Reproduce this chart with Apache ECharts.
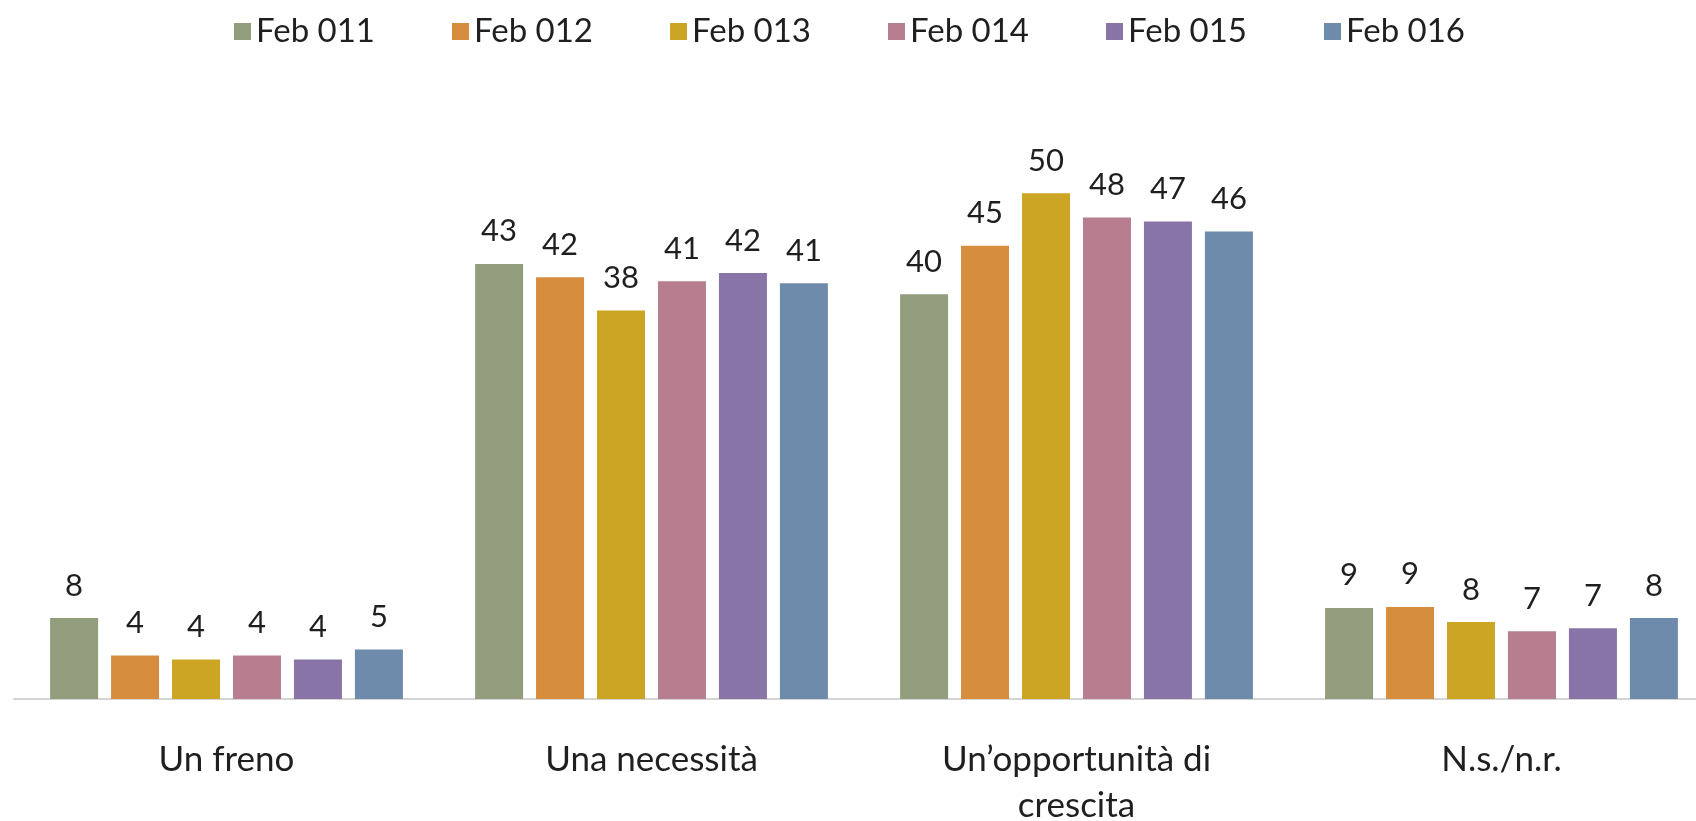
<!DOCTYPE html>
<html>
<head>
<meta charset="utf-8">
<script src="https://cdn.jsdelivr.net/npm/echarts@6/dist/echarts.min.js"></script>
<style>
  html, body { margin: 0; padding: 0; background: #fff; }
  #chart { width: 1696px; height: 821px; }
</style>
</head>
<body>
<div id="chart"></div>
<script>
// categorie e valori (%)
const categories = ['Un freno', 'Una necessità', 'Un’opportunità di\ncrescita', 'N.s./n.r.']
const seriesNames = ['Feb 011', 'Feb 012', 'Feb 013', 'Feb 014', 'Feb 015', 'Feb 016']
const feb011 = [8.0, 43.0, 40.0, 9.0]
const feb012 = [4.3, 41.7, 44.8, 9.1]
const feb013 = [3.9, 38.4, 50.0, 7.6]
const feb014 = [4.3, 41.3, 47.6, 6.7]
const feb015 = [3.9, 42.1, 47.2, 7.0]
const feb016 = [4.9, 41.1, 46.2, 8.0]
const colors = ['#929D7E', '#D68D3E', '#CCA524', '#B77E8F', '#8974A8', '#6F8BAB']

const values = [feb011, feb012, feb013, feb014, feb015, feb016]
const font = 'Lato'
const textColor = '#1f1f1f'

const chart = echarts.init(document.getElementById('chart'))
chart.setOption({
  color: colors,
  animation: false,
  legend: {
    top: 10,
    left: 229,
    itemWidth: 17,
    itemHeight: 17,
    itemGap: 77,
    icon: 'rect',
    textStyle: {
      fontFamily: font,
      fontSize: 33,
      color: textColor
    },
    data: seriesNames
  },
  grid: {
    left: 14,
    top: 92,
    width: 1700,
    height: 607,
    outerBoundsMode: 'none'
  },
  xAxis: {
    type: 'category',
    data: categories,
    axisTick: { show: false },
    axisLine: {
      lineStyle: { color: '#D4D4D4', width: 2 }
    },
    axisLabel: {
      margin: 38,
      fontFamily: font,
      fontSize: 35,
      lineHeight: 46,
      color: textColor
    }
  },
  yAxis: {
    type: 'value',
    min: 0,
    max: 60,
    show: false,
    splitLine: { show: false }
  },
  series: seriesNames.map(function (name, i) {
    return {
      name: name,
      type: 'bar',
      data: values[i],
      barWidth: 48,
      barGap: '27%',
      label: {
        show: true,
        position: 'top',
        distance: 17,
        fontFamily: font,
        fontSize: 31,
        lineHeight: 31,
        color: textColor,
        formatter: function (p) {
          return Math.round(p.value)
        }
      }
    }
  })
})
</script>
</body>
</html>
